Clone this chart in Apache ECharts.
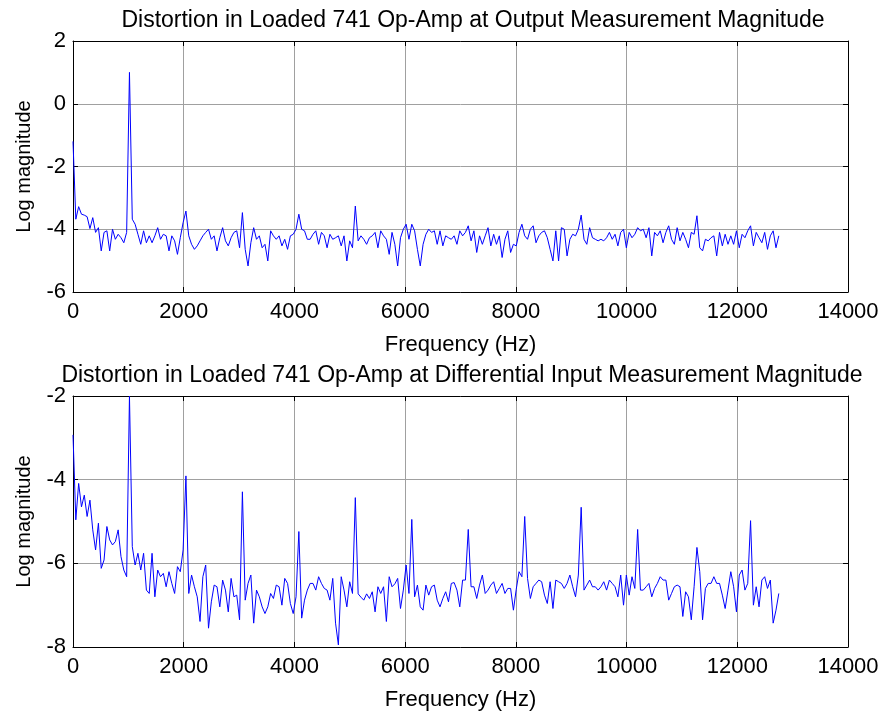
<!DOCTYPE html>
<html><head><meta charset="utf-8">
<script src="https://cdn.jsdelivr.net/npm/echarts@6/dist/echarts.min.js"></script>
<style>html,body{margin:0;padding:0;background:#fff}#c{width:883px;height:712px}</style>
</head><body><div id="c"></div>
<script>
const binHz = 51;
const xTicks = [0, 2000, 4000, 6000, 8000, 10000, 12000, 14000];
const yTicksTop = [-6, -4, -2, 0, 2];
const yTicksBottom = [-8, -6, -4, -2];
const titleTop = 'Distortion in Loaded 741 Op-Amp at Output Measurement Magnitude';
const titleBottom = 'Distortion in Loaded 741 Op-Amp at Differential Input Measurement Magnitude';
const xLabel = 'Frequency (Hz)';
const yLabel = 'Log magnitude';

const outputMag = [
-1.2,-3.68,-3.28,-3.52,-3.55,-3.6,-3.98,-3.63,-4.1,-3.95,
-4.69,-4.1,-4.05,-4.69,-4.0,-4.32,-4.16,-4.27,-4.43,-4.1,
1.0,-3.68,-3.84,-4.16,-4.48,-4.05,-4.43,-4.21,-4.43,-4.21,
-3.95,-4.32,-4.16,-4.21,-4.69,-4.21,-4.37,-4.8,-4.27,-3.79,
-3.42,-4.21,-4.48,-4.64,-4.53,-4.37,-4.21,-4.1,-4.0,-4.32,
-4.21,-4.69,-4.27,-3.95,-4.37,-4.53,-4.27,-4.1,-4.05,-4.59,
-3.47,-4.64,-5.17,-4.43,-3.95,-4.32,-4.21,-4.59,-4.48,-5.01,
-4.05,-4.21,-4.32,-4.21,-4.53,-4.32,-4.64,-4.21,-4.16,-4.0,
-3.52,-4.0,-4.05,-4.32,-4.32,-4.16,-4.05,-4.48,-4.1,-4.21,
-4.59,-4.16,-4.32,-4.27,-4.21,-4.53,-4.21,-5.01,-4.37,-4.59,
-3.26,-4.37,-4.21,-4.32,-4.48,-4.27,-4.21,-4.1,-4.59,-4.05,
-4.21,-4.32,-4.8,-4.1,-4.48,-5.17,-4.27,-4.0,-3.84,-4.32,
-3.84,-4.05,-4.64,-5.17,-4.48,-4.16,-4.0,-4.1,-4.05,-4.48,
-4.05,-4.53,-4.21,-4.27,-4.32,-4.21,-4.48,-4.05,-4.21,-4.1,
-3.89,-4.37,-4.05,-4.74,-4.21,-4.48,-4.21,-3.95,-4.53,-4.16,
-4.48,-4.21,-4.9,-4.32,-4.05,-4.74,-4.48,-4.53,-4.1,-3.84,
-4.21,-4.32,-4.0,-3.89,-4.43,-4.21,-4.1,-4.05,-4.27,-4.64,
-5.01,-4.05,-5.01,-3.95,-4.0,-4.85,-4.32,-4.16,-4.21,-4.0,
-3.55,-4.32,-4.48,-3.95,-4.27,-4.32,-4.37,-4.32,-4.37,-4.27,
-4.1,-4.32,-4.16,-4.53,-4.1,-4.0,-4.59,-4.1,-4.27,-4.16,
-3.95,-4.05,-4.0,-4.27,-3.95,-4.85,-4.1,-4.21,-4.05,-4.43,
-4.1,-3.89,-4.32,-4.48,-3.95,-4.37,-4.1,-4.32,-4.59,-4.1,
-4.16,-3.57,-4.59,-4.69,-4.32,-4.37,-4.27,-4.21,-4.85,-4.1,
-4.53,-4.16,-4.48,-4.21,-4.48,-4.05,-4.59,-4.16,-4.27,-4.05,
-3.89,-4.53,-4.1,-4.27,-4.43,-4.1,-4.64,-4.21,-4.05,-4.59,
-4.21
];

const diffInputMag = [
-2.93,-4.96,-4.09,-4.65,-4.37,-4.88,-4.49,-5.2,-5.68,-5.04,
-6.12,-5.92,-5.12,-5.44,-5.56,-5.48,-5.2,-5.84,-6.16,-6.32,
-2.0,-5.6,-6.04,-5.76,-6.16,-5.76,-6.64,-6.72,-5.76,-6.8,
-6.16,-6.32,-6.24,-6.56,-6.2,-6.48,-6.72,-6.08,-6.2,-5.68,
-3.91,-6.72,-6.28,-6.56,-6.8,-7.39,-6.32,-6.04,-7.55,-6.92,
-6.52,-6.56,-7.04,-6.4,-6.64,-7.16,-6.36,-6.8,-6.76,-7.35,
-4.29,-6.88,-6.48,-6.28,-7.43,-6.64,-6.8,-7.04,-7.2,-7.04,
-6.72,-6.84,-6.52,-6.56,-7.0,-6.36,-6.48,-6.96,-7.2,-6.8,
-5.24,-7.31,-6.88,-6.64,-6.48,-6.48,-6.64,-6.32,-6.48,-6.6,
-6.64,-6.88,-6.36,-7.43,-7.95,-6.32,-6.64,-7.04,-6.44,-6.72,
-4.43,-6.73,-6.81,-6.88,-6.73,-6.84,-6.68,-7.16,-6.56,-6.72,
-6.56,-7.39,-6.32,-6.56,-6.49,-6.36,-7.08,-6.64,-6.04,-6.72,
-4.95,-6.8,-6.52,-7.04,-7.12,-6.52,-6.76,-6.56,-6.52,-6.88,
-7.04,-6.84,-6.68,-6.92,-6.48,-6.46,-6.64,-7.04,-6.4,-6.4,
-5.19,-6.56,-6.56,-6.84,-6.52,-6.28,-6.72,-6.64,-6.52,-6.44,
-6.72,-6.6,-6.48,-6.72,-6.6,-6.6,-7.12,-6.62,-6.2,-6.32,
-4.88,-6.36,-6.84,-6.56,-6.48,-6.4,-6.44,-6.76,-6.96,-6.44,
-7.08,-6.4,-6.44,-6.48,-6.6,-6.48,-6.28,-6.56,-6.8,-6.28,
-4.66,-6.64,-6.52,-6.4,-6.56,-6.56,-6.64,-6.56,-6.44,-6.64,
-6.4,-6.48,-6.56,-6.8,-6.28,-7.0,-6.28,-6.76,-6.32,-6.6,
-5.19,-6.64,-6.64,-6.56,-6.48,-6.8,-6.6,-6.48,-6.32,-6.4,
-6.4,-6.88,-6.72,-6.56,-6.52,-6.56,-7.27,-6.68,-6.8,-7.35,
-6.56,-5.62,-6.2,-7.35,-6.6,-6.48,-6.48,-6.32,-6.48,-6.48,
-6.76,-7.08,-6.64,-6.2,-6.56,-7.16,-6.28,-6.16,-6.64,-6.48,
-4.98,-7.0,-6.56,-7.04,-6.4,-6.32,-6.6,-6.4,-7.43,-7.12,
-6.72
];

const FONT = '"Liberation Sans", Arial, Helvetica, sans-serif';
const pairs = arr => arr.map((v, i) => [i * binHz, v]);
const plain = v => String(v);

function xAxes(gi) {
  const xmin = xTicks[0], xmax = xTicks[xTicks.length - 1], xint = xTicks[1] - xTicks[0];
  return [
    { type: 'value', gridIndex: gi, position: 'bottom', min: xmin, max: xmax, interval: xint,
      name: xLabel, nameLocation: 'middle', nameGap: 42,
      nameTextStyle: { fontFamily: FONT, fontSize: 22, color: '#000' },
      axisLine: { show: true, onZero: false, lineStyle: { color: '#000', width: 1 } },
      axisTick: { show: true, inside: true, length: 5, lineStyle: { color: '#000' } },
      axisLabel: { fontFamily: FONT, fontSize: 22, color: '#000', margin: 9, formatter: plain },
      splitLine: { show: true, lineStyle: { color: '#a0a0a0', width: 1 } } },
    { type: 'value', gridIndex: gi, position: 'top', min: xmin, max: xmax, interval: xint,
      axisLine: { show: true, onZero: false, lineStyle: { color: '#000', width: 1 } },
      axisTick: { show: true, inside: true, length: 5, lineStyle: { color: '#000' } },
      axisLabel: { show: false }, splitLine: { show: false } }
  ];
}
function yAxes(gi, ticks) {
  const ymin = ticks[0], ymax = ticks[ticks.length - 1], yint = ticks[1] - ticks[0];
  return [
    { type: 'value', gridIndex: gi, position: 'left', min: ymin, max: ymax, interval: yint,
      name: yLabel, nameLocation: 'middle', nameGap: 39,
      nameTextStyle: { fontFamily: FONT, fontSize: 20, color: '#000' },
      axisLine: { show: true, onZero: false, lineStyle: { color: '#000', width: 1 } },
      axisTick: { show: true, inside: true, length: 5, lineStyle: { color: '#000' } },
      axisLabel: { fontFamily: FONT, fontSize: 22, color: '#000', margin: 7, formatter: plain },
      splitLine: { show: true, lineStyle: { color: '#a0a0a0', width: 1 } } },
    { type: 'value', gridIndex: gi, position: 'right', min: ymin, max: ymax, interval: yint,
      axisLine: { show: true, onZero: false, lineStyle: { color: '#000', width: 1 } },
      axisTick: { show: true, inside: true, length: 5, lineStyle: { color: '#000' } },
      axisLabel: { show: false }, splitLine: { show: false } }
  ];
}

const chart = echarts.init(document.getElementById('c'), null, { renderer: 'canvas' });
chart.setOption({
  animation: false,
  backgroundColor: '#fff',
  title: [
    { text: titleTop, left: 468, top: 4, textAlign: 'center',
      textStyle: { fontFamily: FONT, fontSize: 23, fontWeight: 'normal', color: '#000' } },
    { text: titleBottom, left: 457, top: 359, textAlign: 'center',
      textStyle: { fontFamily: FONT, fontSize: 23, fontWeight: 'normal', color: '#000' } }
  ],
  grid: [
    { left: 73, top: 41, width: 775, height: 251 },
    { left: 73, top: 396, width: 775, height: 251 }
  ],
  xAxis: [...xAxes(0), ...xAxes(1)],
  yAxis: [...yAxes(0, yTicksTop), ...yAxes(1, yTicksBottom)],
  series: [
    { type: 'line', xAxisIndex: 0, yAxisIndex: 0, data: pairs(outputMag), showSymbol: false,
      lineStyle: { color: '#0000ff', width: 1 }, itemStyle: { color: '#0000ff' } },
    { type: 'line', xAxisIndex: 2, yAxisIndex: 2, data: pairs(diffInputMag), showSymbol: false,
      lineStyle: { color: '#0000ff', width: 1 }, itemStyle: { color: '#0000ff' } }
  ]
});
</script></body></html>
